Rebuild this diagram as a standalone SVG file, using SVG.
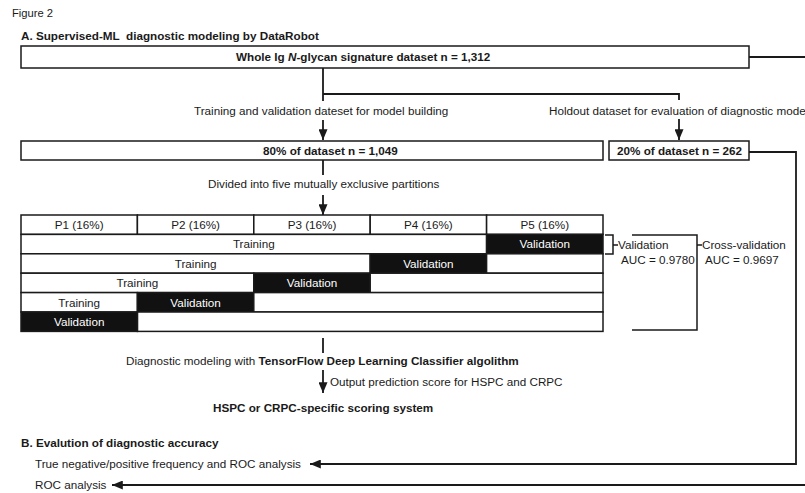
<svg xmlns="http://www.w3.org/2000/svg" width="805" height="493" viewBox="0 0 805 493">
<style>
text{font-family:"Liberation Sans",Arial,sans-serif;font-size:11.7px;fill:#1a1a1a}
.b{font-weight:bold}
.c{text-anchor:middle}
.box{fill:#fff;stroke:#1a1a1a;stroke-width:1.5}
.blk{fill:#111;stroke:#1a1a1a;stroke-width:1.5}
.vt{fill:#fff}
.ln{fill:none;stroke:#1a1a1a;stroke-width:1.8}
</style>
<defs>
<marker id="ah" viewBox="0 0 12 10" refX="12" refY="5" markerWidth="6" markerHeight="5" orient="auto" markerUnits="strokeWidth">
<path d="M0,0 L12,5 L0,10 z" fill="#1a1a1a"/>
</marker>
</defs>
<rect width="805" height="493" fill="#fff"/>

<g id="titles">
<text x="12" y="17" style="font-size:11.2px">Figure 2</text>
<text x="21" y="40" class="b" style="white-space:pre">A. Supervised-ML  diagnostic modeling by DataRobot</text>
<text x="21" y="447" class="b">B. Evalution of diagnostic accuracy</text>
</g>

<g id="whole">
<rect class="box" x="21" y="46" width="728" height="22"/>
<text x="236" y="61" class="b">Whole Ig <tspan font-style="italic">N</tspan>-glycan signature dataset n = 1,312</text>
</g>

<g id="train80">
<rect class="box" x="21" y="141" width="582" height="19"/>
<text x="263" y="155" class="b">80% of dataset n = 1,049</text>
</g>

<g id="holdout20">
<rect class="box" x="609" y="141" width="140" height="19"/>
<text x="617" y="155" class="b">20% of dataset n = 262</text>
</g>

<g id="partitions">
<rect class="box" x="21" y="215" width="116.4" height="19.4"/>
<rect class="box" x="137.4" y="215" width="116.4" height="19.4"/>
<rect class="box" x="253.8" y="215" width="116.4" height="19.4"/>
<rect class="box" x="370.2" y="215" width="116.4" height="19.4"/>
<rect class="box" x="486.6" y="215" width="116.4" height="19.4"/>
<text x="79.2" y="229" class="c">P1 (16%)</text>
<text x="195.6" y="229" class="c">P2 (16%)</text>
<text x="312" y="229" class="c">P3 (16%)</text>
<text x="428.4" y="229" class="c">P4 (16%)</text>
<text x="544.8" y="229" class="c">P5 (16%)</text>
</g>

<g id="fold1">
<rect class="box" x="21" y="234.4" width="465.6" height="19.4"/>
<rect class="blk" x="486.6" y="234.4" width="116.4" height="19.4"/>
<text x="253.8" y="248" class="c">Training</text>
<text x="544.8" y="248" class="c vt">Validation</text>
</g>
<g id="fold2">
<rect class="box" x="21" y="253.8" width="349.2" height="19.4"/>
<rect class="blk" x="370.2" y="253.8" width="116.4" height="19.4"/>
<rect class="box" x="486.6" y="253.8" width="116.4" height="19.4"/>
<text x="195.6" y="267.5" class="c">Training</text>
<text x="428.4" y="267.5" class="c vt">Validation</text>
</g>
<g id="fold3">
<rect class="box" x="21" y="273.2" width="232.8" height="19.4"/>
<rect class="blk" x="253.8" y="273.2" width="116.4" height="19.4"/>
<rect class="box" x="370.2" y="273.2" width="232.8" height="19.4"/>
<text x="137.4" y="287" class="c">Training</text>
<text x="312" y="287" class="c vt">Validation</text>
</g>
<g id="fold4">
<rect class="box" x="21" y="292.6" width="116.4" height="19.4"/>
<rect class="blk" x="137.4" y="292.6" width="116.4" height="19.4"/>
<rect class="box" x="253.8" y="292.6" width="349.2" height="19.4"/>
<text x="79.2" y="306.5" class="c">Training</text>
<text x="195.6" y="306.5" class="c vt">Validation</text>
</g>
<g id="fold5">
<rect class="box" x="137.4" y="312" width="465.6" height="19.4"/>
<rect class="blk" x="21" y="312" width="116.4" height="19.4"/>
<text x="79.2" y="326" class="c vt">Validation</text>
</g>

<g id="auc">
<text x="618" y="249">Validation</text>
<text x="621" y="264">AUC = 0.9780</text>
<text x="702" y="249">Cross-validation</text>
<text x="705" y="264">AUC = 0.9697</text>
</g>

<g id="scoring">
<text x="213" y="412" class="b">HSPC or CRPC-specific scoring system</text>
</g>

<g id="evaluation">
<text x="35" y="468">True negative/positive frequency and ROC analysis</text>
<text x="35" y="489">ROC analysis</text>
</g>

<g id="connectors">
<path class="ln" d="M749,57 H805"/>
<path class="ln" d="M323,68 V101 M323,94 H679 V100"/>
<path class="ln" d="M323,120 V140" marker-end="url(#ah)"/>
<path class="ln" d="M679,119 V140" marker-end="url(#ah)"/>
<path class="ln" d="M323,160 V175"/>
<path class="ln" d="M323,195 V215" marker-end="url(#ah)"/>
<path class="ln" d="M605,235 H613 V254 H605 M613,245 H618" style="stroke-width:1.5"/>
<path class="ln" d="M632,235 H697 V330 H632 M697,245 H702" style="stroke-width:1.5"/>
<path class="ln" d="M323,338 V353"/>
<path class="ln" d="M323,370 V393" marker-end="url(#ah)"/>
<path class="ln" d="M749,152 H796 V464 H310" marker-end="url(#ah)"/>
<path class="ln" d="M805,485 H112" marker-end="url(#ah)"/>
</g>

<g id="labels">
<text x="194" y="115">Training and validation dateset for model building</text>
<text x="549" y="115">Holdout dataset for evaluation of diagnostic mode</text>
<text x="208" y="188">Divided into five mutually exclusive partitions</text>
<text x="126" y="365">Diagnostic modeling with <tspan class="b">TensorFlow Deep Learning Classifier algolithm</tspan></text>
<text x="330" y="386">Output prediction score for HSPC and CRPC</text>
</g>
</svg>
